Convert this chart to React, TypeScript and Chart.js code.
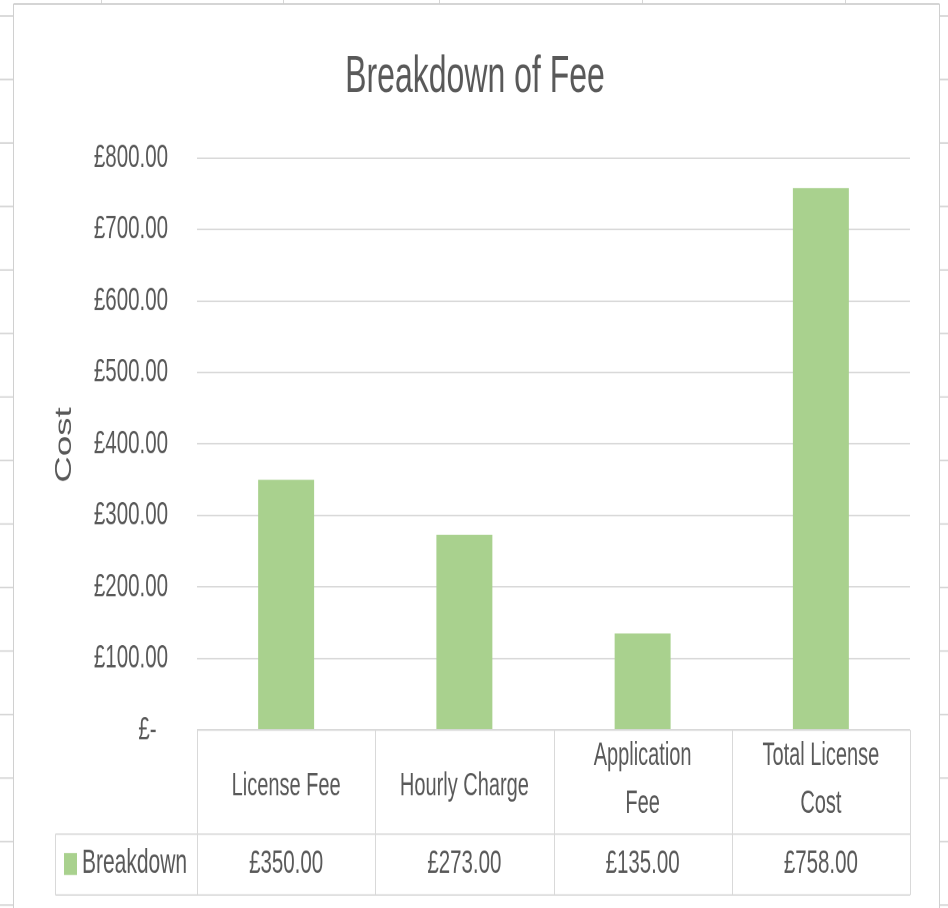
import React, { useEffect, useRef } from 'react';
import { Chart, registerables } from 'chart.js';

Chart.register(...registerables);

// ---- data ----
const chartTitle = 'Breakdown of Fee';
const yAxisTitle = 'Cost';
const seriesName = 'Breakdown';
const categories: string[][] = [['License Fee'], ['Hourly Charge'], ['Application', 'Fee'], ['Total License', 'Cost']];
const values: number[] = [350, 273, 135, 758];
const yMin = 0;
const yMax = 800;
const yStep = 100;

// ---- layout / style ----
const W = 948;
const H = 908;
const LH = 568; // logical canvas height, stretched vertically to H
const SY = H / LH;
const yy = (v: number) => v / SY;
const FAM = "'Liberation Sans', Arial, sans-serif";
const TXT = '#595959';
const LINE = '#d9d9d9';
const BAR = '#a9d18e';

const money = (v: number) => '£' + v.toFixed(2);

function line(ctx: CanvasRenderingContext2D, x1: number, y1: number, x2: number, y2: number) {
  ctx.beginPath();
  ctx.moveTo(x1, y1);
  ctx.lineTo(x2, y2);
  ctx.stroke();
}

const decor = {
  id: 'decor',
  beforeDraw(chart: any) {
    const ctx: CanvasRenderingContext2D = chart.ctx;
    ctx.save();
    ctx.fillStyle = '#ffffff';
    ctx.fillRect(0, 0, W, LH);
    // spreadsheet cells around the chart
    ctx.strokeStyle = '#d6d6d6';
    ctx.lineWidth = 1;
    for (const x of [101.5, 283.5, 439.5, 642.5, 845.5]) line(ctx, x, 0, x, yy(4));
    for (let k = 0; k < 15; k++) {
      const y = yy(16 + 63.5 * k);
      line(ctx, 0, y, 13, y);
      line(ctx, 940, y, W, y);
    }
    // chart frame
    ctx.strokeStyle = '#d0d0d0';
    line(ctx, 13.5, yy(4), 939.5, yy(4));
    line(ctx, 13.5, yy(4), 13.5, LH);
    line(ctx, 939.5, yy(4), 939.5, LH);
    ctx.restore();
  },
  afterDraw(chart: any) {
    const ctx: CanvasRenderingContext2D = chart.ctx;
    const a = chart.chartArea;
    const n = categories.length;
    const cw = (a.right - a.left) / n;
    const top = a.bottom;
    const mid = yy(834);
    const bot = yy(895);
    const leftX = 55.5;
    ctx.save();
    // title
    ctx.fillStyle = TXT;
    ctx.textAlign = 'center';
    ctx.textBaseline = 'alphabetic';
    ctx.font = `32px ${FAM}`;
    ctx.fillText(chartTitle, 475, yy(92));
    // y axis title
    ctx.save();
    ctx.translate(71, yy(445));
    ctx.rotate(-Math.PI / 2);
    ctx.font = `23px ${FAM}`;
    ctx.fillText(yAxisTitle, 0, 0);
    ctx.restore();
    // data table lines
    ctx.strokeStyle = LINE;
    ctx.lineWidth = 1;
    line(ctx, a.left, top, a.right, top);
    line(ctx, leftX, mid, a.right, mid);
    line(ctx, leftX, bot, a.right, bot);
    for (let i = 0; i <= n; i++) {
      const x = Math.round(a.left + i * cw) + 0.5;
      line(ctx, x, top, x, bot);
    }
    line(ctx, leftX, mid, leftX, bot);
    // category labels
    ctx.font = `20px ${FAM}`;
    categories.forEach((lines, i) => {
      const cx = a.left + (i + 0.5) * cw;
      const k = lines.length;
      lines.forEach((t, j) => {
        const base = k === 1 ? 795 : 789 + 48 * (j - (k - 1) / 2);
        ctx.fillText(t, cx, yy(base));
      });
    });
    // values
    ctx.font = `20.5px ${FAM}`;
    values.forEach((v, i) => {
      const cx = a.left + (i + 0.5) * cw;
      ctx.fillText(money(v), cx, yy(873));
    });
    // legend key
    ctx.fillStyle = BAR;
    ctx.fillRect(64, yy(853), 13, yy(875) - yy(853));
    ctx.fillStyle = TXT;
    ctx.textAlign = 'left';
    ctx.font = `21px ${FAM}`;
    ctx.fillText(seriesName, 82, yy(873));
    ctx.restore();
  },
};

export default function App() {
  const ref = useRef<HTMLCanvasElement>(null);
  useEffect(() => {
    document.body.style.margin = '0';
    document.documentElement.style.overflow = 'hidden';
    const chart = new Chart(ref.current as HTMLCanvasElement, {
      type: 'bar',
      data: {
        labels: categories,
        datasets: [
          {
            label: seriesName,
            data: values,
            backgroundColor: BAR,
            borderWidth: 0,
            barPercentage: 0.314,
            categoryPercentage: 1,
          },
        ],
      },
      options: {
        responsive: false,
        animation: false,
        devicePixelRatio: 2,
        events: [],
        layout: {
          padding: { top: yy(158), bottom: LH - yy(730), left: 0, right: W - 910 },
        },
        plugins: {
          legend: { display: false },
          tooltip: { enabled: false },
          title: { display: false },
        },
        scales: {
          x: { display: false },
          y: {
            min: yMin,
            max: yMax,
            afterFit: (scale: any) => {
              scale.width = 197;
            },
            ticks: {
              stepSize: yStep,
              padding: 29,
              color: TXT,
              font: { family: FAM, size: 20.5 },
              callback: (v: any) => (Number(v) === 0 ? '£-  ' : money(Number(v))),
            },
            grid: { color: LINE, lineWidth: 1, drawTicks: false },
            border: { display: false },
          },
        },
      },
      plugins: [decor],
    } as any);
    return () => chart.destroy();
  }, []);
  return (
    <div
      style={{
        position: 'absolute',
        left: 0,
        top: 0,
        width: W,
        height: LH,
        transform: `scaleY(${SY})`,
        transformOrigin: '0 0',
      }}
    >
      <canvas ref={ref} width={W} height={LH} style={{ display: 'block', width: W, height: LH }} />
    </div>
  );
}
